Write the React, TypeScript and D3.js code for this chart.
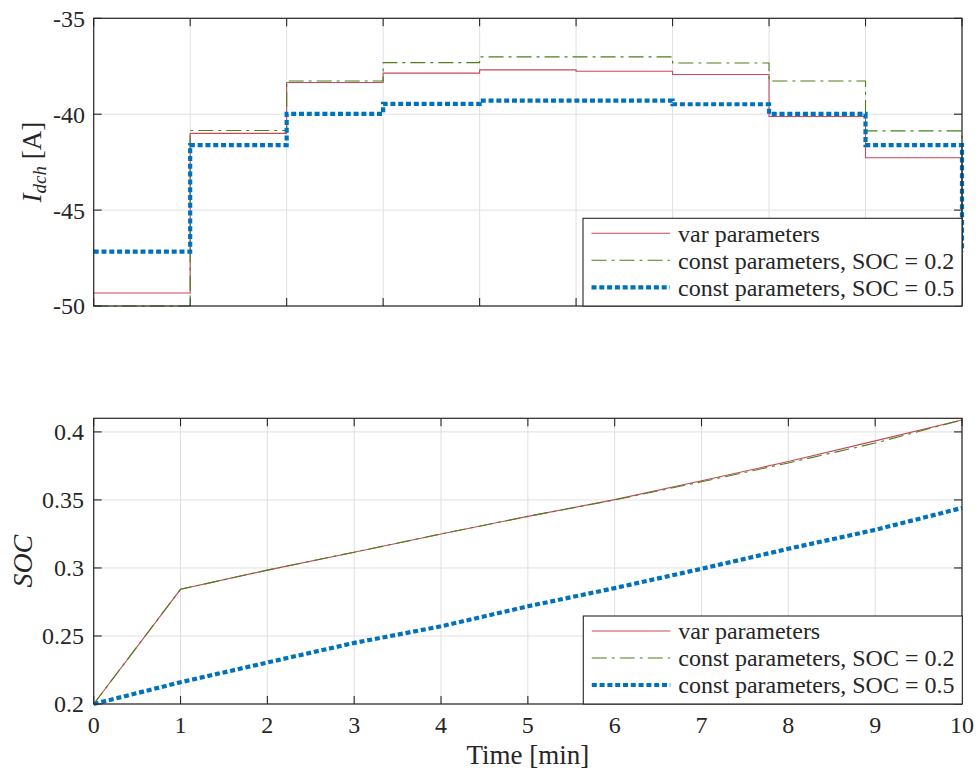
import React from "react";
import * as d3 from "d3";

// ---- data ----
const stepIndex = [0, 1, 2, 3, 4, 5, 6, 7, 8, 9];
const idchVar = [-49.32, -41.0, -38.35, -37.86, -37.69, -37.76, -37.93, -40.12, -42.27, -49.32];
const idchConst02 = [-50, -40.85, -38.27, -37.31, -37.01, -37.01, -37.33, -38.27, -40.87, -50];
const idchConst05 = [-47.17, -41.61, -39.98, -39.46, -39.29, -39.29, -39.48, -39.98, -41.61, -47.17];

const timeMin = [0, 1, 2, 3, 4, 5, 6, 7, 8, 9, 10];
const socVar = [0.2, 0.2843, 0.2984, 0.3116, 0.325, 0.3379, 0.3502, 0.3641, 0.3782, 0.3934, 0.4088];
const socConst02 = [0.2, 0.2843, 0.2984, 0.3116, 0.325, 0.3379, 0.35, 0.3633, 0.3772, 0.3918, 0.4088];
const socConst05 = [0.2, 0.216, 0.2305, 0.2449, 0.2571, 0.2718, 0.2852, 0.2994, 0.3141, 0.328, 0.3441];

const topYTicks = [-50, -45, -40, -35];
const topYTickLabels = ["-50", "-45", "-40", "-35"];
const botYTicks = [0.2, 0.25, 0.3, 0.35, 0.4];
const botYTickLabels = ["0.2", "0.25", "0.3", "0.35", "0.4"];
const botXTicks = [0, 1, 2, 3, 4, 5, 6, 7, 8, 9, 10];

const legendLabels = ["var parameters", "const parameters, SOC = 0.2", "const parameters, SOC = 0.5"];

// ---- styles ----
const FONT = "Liberation Serif, serif";
const AX = "#262626";
const GRID = "#e0e0e0";
const seriesStyle = [
  { color: "#c8485c", width: 1.1, dash: "none" },
  { color: "#4b801a", width: 1.1, dash: "15 5 3 5" },
  { color: "#0072bd", width: 4.2, dash: "5 2.8" },
];

const X0 = 93.7;
const X1 = 962;

const txt = (size: number, italic = false) => ({
  fontFamily: FONT,
  fontSize: size + "px",
  fontStyle: italic ? "italic" : "normal",
});

function Legend({ x, y, w, h }: { x: number; y: number; w: number; h: number }) {
  const rows = [15, 42, 69];
  return (
    <g>
      <rect x={x} y={y} width={w} height={h} fill="white" stroke={AX} strokeWidth={1.1} />
      {legendLabels.map((lab, i) => (
        <g key={i}>
          <line
            x1={x + 8.5}
            x2={x + 87}
            y1={y + rows[i]}
            y2={y + rows[i]}
            stroke={seriesStyle[i].color}
            strokeWidth={seriesStyle[i].width}
            strokeDasharray={seriesStyle[i].dash}
          />
          <text x={x + 95} y={y + rows[i]} dy="0.35em" style={txt(24)} fill={AX}>
            {lab}
          </text>
        </g>
      ))}
    </g>
  );
}

export default function App() {
  // top panel
  const tTop = 18.3, tBot = 306;
  const xTop = d3.scaleLinear().domain([0, 9]).range([X0, X1]);
  const yTop = d3.scaleLinear().domain([-50, -35]).range([tBot, tTop]);
  const stepLine = (vals: number[]) =>
    d3
      .line<number>()
      .x((_, i) => xTop(stepIndex[i]))
      .y((v) => yTop(v))
      .curve(d3.curveStepAfter)(vals) as string;

  // bottom panel
  const bTop = 418.3, bBot = 704;
  const xBot = d3.scaleLinear().domain([0, 10]).range([X0, X1]);
  const yBot = d3.scaleLinear().domain([0.2, 0.41]).range([bBot, bTop]);
  const socLine = (vals: number[]) =>
    d3
      .line<number>()
      .x((_, i) => xBot(timeMin[i]))
      .y((v) => yBot(v))(vals) as string;

  const TL = 8;
  const topSeries = [idchVar, idchConst02, idchConst05];
  const botSeries = [socVar, socConst02, socConst05];

  return (
    <svg width={978} height={771} style={{ position: "absolute", left: 0, top: 0, background: "white" }}>
      <rect x={0} y={0} width={978} height={771} fill="white" />

      {/* ===== TOP PANEL ===== */}
      <g>
        {stepIndex.map((t) => (
          <line key={"tg" + t} x1={xTop(t)} x2={xTop(t)} y1={tTop} y2={tBot} stroke={GRID} strokeWidth={1} />
        ))}
        {topYTicks.map((v) => (
          <line key={"tgy" + v} x1={X0} x2={X1} y1={yTop(v)} y2={yTop(v)} stroke={GRID} strokeWidth={1} />
        ))}
        {stepIndex.map((t) => (
          <g key={"tt" + t}>
            <line x1={xTop(t)} x2={xTop(t)} y1={tBot} y2={tBot - TL} stroke={AX} strokeWidth={1.1} />
            <line x1={xTop(t)} x2={xTop(t)} y1={tTop} y2={tTop + TL} stroke={AX} strokeWidth={1.1} />
          </g>
        ))}
        {topYTicks.map((v, i) => (
          <g key={"tty" + v}>
            <line x1={X0} x2={X0 + TL} y1={yTop(v)} y2={yTop(v)} stroke={AX} strokeWidth={1.1} />
            <line x1={X1} x2={X1 - TL} y1={yTop(v)} y2={yTop(v)} stroke={AX} strokeWidth={1.1} />
            <text x={85} y={yTop(v)} dy="0.35em" textAnchor="end" style={txt(24)} fill={AX}>
              {topYTickLabels[i]}
            </text>
          </g>
        ))}
        {topSeries.map((s, i) => (
          <path
            key={"tp" + i}
            d={stepLine(s)}
            fill="none"
            stroke={seriesStyle[i].color}
            strokeWidth={seriesStyle[i].width}
            strokeDasharray={seriesStyle[i].dash}
          />
        ))}
        <rect x={X0} y={tTop} width={X1 - X0} height={tBot - tTop} fill="none" stroke={AX} strokeWidth={1.2} />
        <Legend x={583} y={218.3} w={379} h={87.7} />
        <text transform={`translate(41,${(tTop + tBot) / 2}) rotate(-90)`} textAnchor="middle" style={txt(27)} fill={AX}>
          <tspan style={txt(27, true)}>I</tspan>
          <tspan style={txt(19, true)} dy={5}>dch</tspan>
          <tspan dy={-5}>{"\u00a0[A]"}</tspan>
        </text>
      </g>

      {/* ===== BOTTOM PANEL ===== */}
      <g>
        {botXTicks.map((t) => (
          <line key={"bg" + t} x1={xBot(t)} x2={xBot(t)} y1={bTop} y2={bBot} stroke={GRID} strokeWidth={1} />
        ))}
        {botYTicks.map((v) => (
          <line key={"bgy" + v} x1={X0} x2={X1} y1={yBot(v)} y2={yBot(v)} stroke={GRID} strokeWidth={1} />
        ))}
        {botXTicks.map((t) => (
          <g key={"bt" + t}>
            <line x1={xBot(t)} x2={xBot(t)} y1={bBot} y2={bBot - TL} stroke={AX} strokeWidth={1.1} />
            <line x1={xBot(t)} x2={xBot(t)} y1={bTop} y2={bTop + TL} stroke={AX} strokeWidth={1.1} />
            <text x={xBot(t)} y={733} textAnchor="middle" style={txt(24)} fill={AX}>
              {String(t)}
            </text>
          </g>
        ))}
        {botYTicks.map((v, i) => (
          <g key={"bty" + v}>
            <line x1={X0} x2={X0 + TL} y1={yBot(v)} y2={yBot(v)} stroke={AX} strokeWidth={1.1} />
            <line x1={X1} x2={X1 - TL} y1={yBot(v)} y2={yBot(v)} stroke={AX} strokeWidth={1.1} />
            <text x={84} y={yBot(v)} dy="0.35em" textAnchor="end" style={txt(24)} fill={AX}>
              {botYTickLabels[i]}
            </text>
          </g>
        ))}
        {botSeries.map((s, i) => (
          <path
            key={"bp" + i}
            d={socLine(s)}
            fill="none"
            stroke={seriesStyle[i].color}
            strokeWidth={seriesStyle[i].width}
            strokeDasharray={seriesStyle[i].dash}
          />
        ))}
        <rect x={X0} y={bTop} width={X1 - X0} height={bBot - bTop} fill="none" stroke={AX} strokeWidth={1.2} />
        <Legend x={583.3} y={616} w={379} h={88} />
        <text transform={`translate(32,${(bTop + bBot) / 2}) rotate(-90)`} textAnchor="middle" style={txt(28, true)} fill={AX}>
          SOC
        </text>
        <text x={(X0 + X1) / 2} y={764} textAnchor="middle" style={txt(27)} fill={AX}>
          Time [min]
        </text>
      </g>
    </svg>
  );
}
